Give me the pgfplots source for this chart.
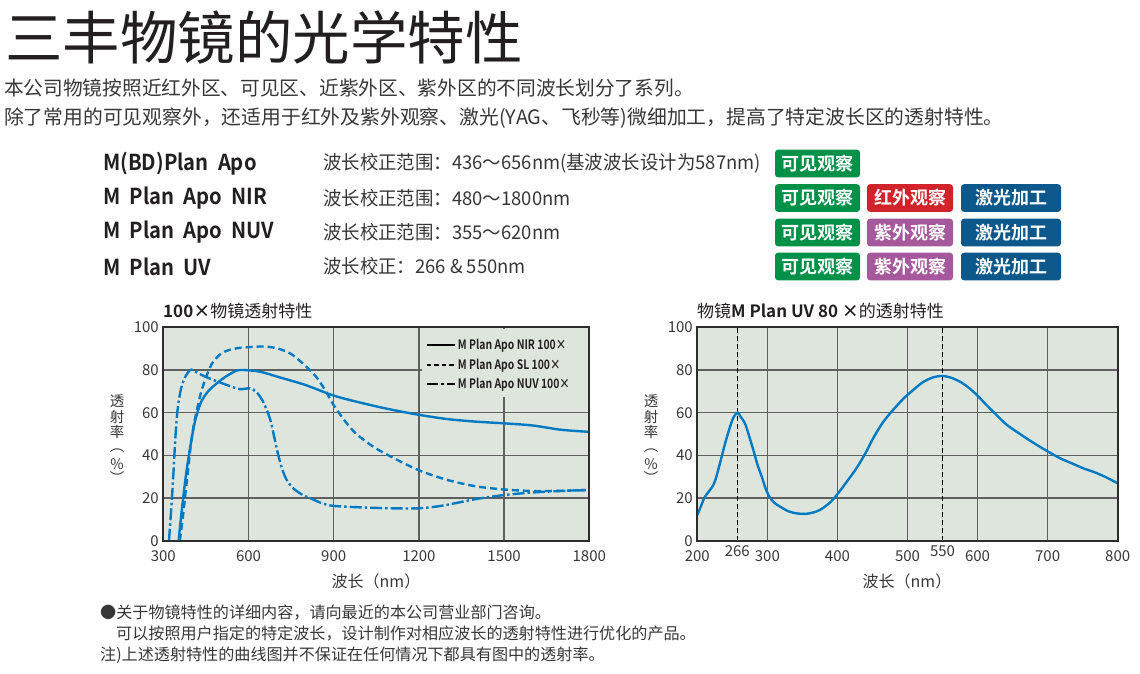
\documentclass[border=0pt]{standalone}
\usepackage{fontspec}
\setmainfont{Noto Sans CJK SC}[BoldFont={Noto Sans CJK SC Bold}]
\usepackage{pgfplots}
\pgfplotsset{compat=1.18}

\definecolor{plotbg}{RGB}{222,229,221}
\definecolor{gridc}{RGB}{95,95,95}
\definecolor{frame}{RGB}{45,45,45}
\definecolor{curve}{RGB}{0,122,194}
\definecolor{tgreen}{RGB}{0,145,72}
\definecolor{tred}{RGB}{208,35,42}
\definecolor{tpurple}{RGB}{166,88,156}
\definecolor{tblue}{RGB}{12,88,138}
\definecolor{txt}{RGB}{55,55,55}
\definecolor{ttl}{RGB}{35,31,32}

\newcommand\fs[1]{\fontsize{#1}{#1}\selectfont}
\newcommand\cond[1]{\scalebox{0.8}[1]{#1}}
% colour, x left, x right, y centre, text
\newcommand\tagbox[5]{%
  \fill[#1, rounded corners=3pt] (#2pt,#4pt+13.8pt) rectangle (#3pt,#4pt-13.8pt);
  \node[text=white, font=\fs{18}\bfseries, inner sep=0] at ({(#2+#3)/2*1pt},#4pt) {#5};}

\pgfplotsset{
  trans/.style={
    scale only axis, height=213.4pt,
    ymin=0, ymax=100, ytick={0,20,40,60,80,100},
    grid=major,
    major grid style={draw=gridc, line width=1.3pt},
    axis background/.style={fill=plotbg},
    axis line style={draw=frame, line width=2pt},
    major tick length=0pt,
    tick label style={font=\fs{15}, text=txt},
    xticklabel style={yshift=-6pt},
    yticklabel style={xshift=-1pt},
    /pgf/number format/assume math mode=true,
    /pgf/number format/1000 sep={},
  },
  tcurve/.style={curve, line width=2.4pt, smooth, forget plot},
}

\begin{document}
\begin{tikzpicture}
\useasboundingbox (0pt,0pt) rectangle (1140pt,-673pt);

% heading and intro
\node[anchor=west, inner sep=0, font=\fs{57.5}, text=ttl] at (5pt,-37pt) {三丰物镜的光学特性};
\node[anchor=west, inner sep=0, font=\fs{19.7}, text=txt] at (4pt,-88pt)
  {本公司物镜按照近红外区、可见区、近紫外区、紫外区的不同波长划分了系列。};
\node[anchor=west, inner sep=0, font=\fs{19.8}, text=txt] at (4pt,-118pt)
  {除了常用的可见观察外，还适用于红外及紫外观察、激光(YAG、飞秒等)微细加工，提高了特定波长区的透射特性。};

% objective list
\foreach \nm/\sp/\yy in {
    {M(BD)Plan\ \ Apo}/{波长校正范围：436～656nm(基波波长设计为587nm)}/-163.5,
    {M\ \ Plan\ \ Apo\ \ NIR}/{波长校正范围：480～1800nm}/-198,
    {M\ \ Plan\ \ Apo\ \ NUV}/{波长校正范围：355～620nm}/-232.5,
    {M\ \ Plan\ \ UV}/{波长校正：266 \& 550nm}/-266.5}{
  \node[anchor=west, inner sep=0, font=\fs{22}\bfseries, text=ttl] at (103pt,\yy pt) {\scalebox{0.92}[1]{\nm}};
  \node[anchor=west, inner sep=0, font=\fs{19}, text=txt] at (323pt,\yy pt) {\scalebox{0.97}[1]{\sp}};
}
\tagbox{tgreen}{775}{860}{-163.5}{可见观察}
\tagbox{tgreen}{775}{860}{-198}{可见观察}
\tagbox{tred}{867}{953}{-198}{红外观察}
\tagbox{tblue}{961}{1061}{-198}{激光加工}
\tagbox{tgreen}{775}{860}{-232.5}{可见观察}
\tagbox{tpurple}{867}{953}{-232.5}{紫外观察}
\tagbox{tblue}{961}{1061}{-232.5}{激光加工}
\tagbox{tgreen}{775}{860}{-266.5}{可见观察}
\tagbox{tpurple}{867}{953}{-266.5}{紫外观察}
\tagbox{tblue}{961}{1061}{-266.5}{激光加工}

% chart titles and axis labels
\node[anchor=west, inner sep=0, font=\fs{17}, text=ttl] at (163pt,-311pt) {\textbf{100×}物镜透射特性};
\node[anchor=west, inner sep=0, font=\fs{17}, text=ttl] at (697pt,-311pt) {物镜\textbf{M Plan UV 80 ×}的透射特性};
\foreach \xx in {117,651}{
  \foreach \ch/\yy in {透/-401,射/-416.5,率/-431.5,︵/-451,\%/-464,︶/-477}
    \node[inner sep=0, font=\fs{14.5}, text=txt] at (\xx pt,\yy pt) {\ch};
}
\node[inner sep=0, font=\fs{16}, text=txt] at (376pt,-581pt) {波长（nm）};
\node[inner sep=0, font=\fs{16}, text=txt] at (907pt,-581pt) {波长（nm）};

% left chart: 100x objectives
\begin{axis}[trans,
  at={(163.3pt,-540.7pt)}, anchor=south west, width=426pt,
  xmin=300, xmax=1800, xtick={300,600,900,1200,1500,1800},
  legend style={at={(axis cs:1224,95.3)}, anchor=north west, draw=none, fill=none,
    font=\fs{13}\bfseries, text=ttl, inner sep=0pt, row sep=3.3pt},
  legend cell align=left,
  legend image code/.code={\draw[#1] (0pt,0pt) -- (28pt,0pt);},
]
\fill[plotbg] (axis cs:1212,67.5) rectangle (axis cs:1796,99.4);
\addlegendimage{black, line width=2pt}
\addlegendentry{\cond{M Plan Apo NIR 100×}}
\addlegendimage{black, line width=2pt, dash pattern=on 4.5pt off 3pt}
\addlegendentry{\cond{M Plan Apo SL 100×}}
\addlegendimage{black, line width=2pt, dash pattern=on 11pt off 3pt on 3pt off 3pt}
\addlegendentry{\cond{M Plan Apo NUV 100×}}
% M Plan Apo NIR 100x
\addplot[tcurve] coordinates {
  (354,0) (360,8) (370,20) (380,31) (390,40) (400,48) (410,55) (420,60)
  (435,65.5) (461,70.5) (505,75.5) (540,78.5) (570,80) (640,79.2)
  (711,76.5) (800,73) (900,68) (1000,64.5) (1100,61.5) (1200,59) (1300,57)
  (1400,55.8) (1500,55) (1600,54) (1700,52) (1800,51)};
% M Plan Apo SL 100x
\addplot[tcurve, dash pattern=on 7pt off 4pt] coordinates {
  (358,0) (368,10) (378,22) (388,34) (397,45) (407,54) (418,61) (429,67.5)
  (441,73) (453,77.5) (464,81) (476,84) (500,87.3) (523,89) (560,90.2)
  (600,90.7) (650,91) (700,90.2) (750,87.5) (800,82) (840,76.5) (870,70.5)
  (900,63.5) (940,56) (980,50) (1040,44) (1100,39.5) (1200,33) (1300,28.5)
  (1400,25.5) (1500,24) (1600,23.3) (1700,23.4) (1800,23.8)};
% M Plan Apo NUV 100x
\addplot[tcurve, dash pattern=on 12pt off 3pt on 2.5pt off 3pt] coordinates {
  (320,0) (328,15) (335,30) (342,47) (350,61) (362,71) (378,77) (395,80)
  (405,79.8) (430,78) (464,76) (523,73) (570,71) (605,71.4) (629,69.5)
  (652,65) (676,57) (690,49) (705,40) (720,33) (735,28.4) (758,24.5)
  (790,21.5) (816,20) (860,17.5) (900,16.3) (1000,15.6) (1100,15.2)
  (1200,15.2) (1286,16.5) (1400,19.5) (1500,21.4) (1600,22.6) (1700,23.3)
  (1800,23.8)};
\draw[frame, line width=2pt] (rel axis cs:0,0) rectangle (rel axis cs:1,1);
\end{axis}

% right chart: M Plan UV 80x
\begin{axis}[trans,
  at={(697.3pt,-540.7pt)}, anchor=south west, width=420.4pt,
  xmin=200, xmax=800, xtick={200,300,400,500,600,700,800},
  extra x ticks={257,550}, extra x tick labels={266,550},
  extra x tick style={grid=major,
    major grid style={draw=black, line width=1pt, dash pattern=on 5pt off 3pt},
    tick label style={yshift=5pt}},
]
\addplot[tcurve] coordinates {
  (200,12) (205,16) (211,20.6) (222.8,26) (228,31) (234.8,39.4) (240,46)
  (246.7,53.4) (252,58) (257.5,60) (262,58) (268,55) (274,49) (280,42.5)
  (286,35.5) (292,30) (298,24) (304,20) (311,17.5) (318,16) (330,13.8)
  (342,12.8) (355,12.6) (365,13.2) (375,14.4) (388,17.5) (399,21.4)
  (413,27.5) (427,33.9) (440,41) (451,48) (465,55.5) (480,61.5) (494,66.5)
  (508,70.6) (522,74.3) (537,76.6) (550,77.2) (562,76.4) (575,74.5)
  (587,71.8) (599,68.3) (613,63.5) (627,58.9) (641,54.5) (656,51) (672,47.5)
  (689,44) (703,41.3) (718,38.6) (735,36.2) (751,33.9) (766,32.2)
  (783,29.8) (800,26.9)};
\draw[frame, line width=2pt] (rel axis cs:0,0) rectangle (rel axis cs:1,1);
\end{axis}

% notes
\node[anchor=west, inner sep=0, font=\fs{16.1}, text=txt] at (100pt,-613pt)
  {●关于物镜特性的详细内容，请向最近的本公司营业部门咨询。};
\node[anchor=west, inner sep=0, font=\fs{16.1}, text=txt] at (116pt,-634pt)
  {可以按照用户指定的特定波长，设计制作对相应波长的透射特性进行优化的产品。};
\node[anchor=west, inner sep=0, font=\fs{16.1}, text=txt] at (100pt,-655pt)
  {注)上述透射特性的曲线图并不保证在任何情况下都具有图中的透射率。};
\end{tikzpicture}
\end{document}
